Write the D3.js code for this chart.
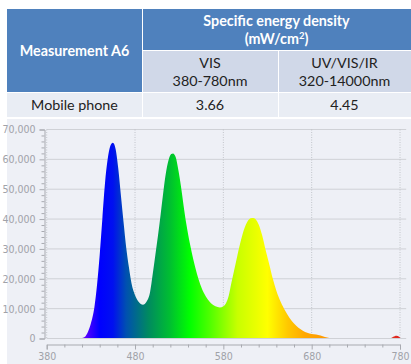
<!DOCTYPE html>
<html>
<head>
<meta charset="utf-8">
<script src="https://cdn.jsdelivr.net/npm/d3@7"></script>
<style>
  body { margin: 0; background: #fff; }
  svg { display: block; }
</style>
</head>
<body>
<svg id="svg_elem"></svg>
<script>
//define constants
const svgWidth = 411;
const svgHeight = 364;

//table data
const headLeft = 'Measurement A6';
const headTop = ['Specific energy density', '(mW/cm²)'];
const subHeads = [['VIS', '380-780nm'], ['UV/VIS/IR', '320-14000nm']];
const rowLabel = 'Mobile phone';
const rowValues = ['3.66', '4.45'];

//spectrum data (wavelength nm, counts)
const wavelengths = [418, 422, 426, 430, 434, 437, 440, 443, 446, 449, 452, 455, 458, 461, 464, 467, 470, 473, 476, 480,
  484, 489, 493, 497, 500, 503, 506, 509, 512, 515, 518, 521, 523, 526, 529, 532, 535, 538, 542, 546,
  550, 554, 558, 562, 566, 571, 576, 580, 583, 586, 589, 592, 596, 600, 604, 608, 611, 614, 617, 620,
  624, 628, 632, 636, 640, 645, 650, 655, 660, 665, 670, 675, 680, 685, 690, 695, 700, 704,
  768, 772, 776, 779, 781];
const counts = [0, 300, 1800, 5000, 10500, 18000, 28000, 40000, 52000, 60000, 64500, 65600, 63500, 57000, 48000, 39000, 30500, 24000, 18500, 14500,
  12300, 11300, 12300, 15500, 21500, 28000, 34500, 41500, 49000, 55500, 59800, 61800, 62000, 60800, 56500, 51000, 44500, 38500, 32000, 26500,
  21800, 18000, 15200, 13200, 11800, 10800, 10400, 10800, 11800, 14200, 18500, 22500, 28000, 33000, 37000, 39500, 40300, 40400, 39800, 38200,
  34500, 29500, 24800, 20000, 16000, 12200, 9300, 6900, 5000, 3600, 2600, 1900, 1500, 1300, 1000, 500, 150, 0,
  0, 500, 900, 600, 0];

//axes
const yTicks = [0, 10000, 20000, 30000, 40000, 50000, 60000, 70000];
const xTicks = [380, 480, 580, 680, 780];

//colour stops along the spectrum
const stopNm = [420, 440, 455, 470, 495, 520, 542, 565, 596, 630, 653, 672, 705, 765, 780];
const stopColor = ['#7000ff', '#0000ff', '#0010f0', '#0050b0', '#008a60', '#00c030', '#00ff00', '#50ff00', '#c8ff00',
  '#ffff00', '#ffc800', '#ffa800', '#ff9400', '#e04020', '#e02020'];

const data = wavelengths.map((w, i) => ({nm: w, v: counts[i]}));

const svg = d3.select('#svg_elem')
  .attr('width', svgWidth)
  .attr('height', svgHeight);

//----- table -----
const tbl = svg.append('g').classed('table', true);
const tx0 = 7, tx1 = 142, tx2 = 278, tx3 = 411;
const ty0 = 9, ty1 = 50, ty2 = 92, ty3 = 117;
const gap = 1;
const cells = [
  {x: tx0, y: ty0, w: tx1 - tx0, h: ty2 - ty0, fill: '#4f81bd'},
  {x: tx1 + gap, y: ty0, w: tx3 - tx1 - gap, h: ty1 - ty0, fill: '#4f81bd'},
  {x: tx1 + gap, y: ty1 + gap, w: tx2 - tx1 - gap, h: ty2 - ty1 - gap, fill: '#d0d8e8'},
  {x: tx2 + gap, y: ty1 + gap, w: tx3 - tx2 - gap, h: ty2 - ty1 - gap, fill: '#d0d8e8'},
  {x: tx0, y: ty2 + gap, w: tx1 - tx0, h: ty3 - ty2 - gap, fill: '#e9edf4'},
  {x: tx1 + gap, y: ty2 + gap, w: tx2 - tx1 - gap, h: ty3 - ty2 - gap, fill: '#e9edf4'},
  {x: tx2 + gap, y: ty2 + gap, w: tx3 - tx2 - gap, h: ty3 - ty2 - gap, fill: '#e9edf4'}
];
tbl.selectAll('rect').data(cells).enter().append('rect')
  .attr('x', d => d.x).attr('y', d => d.y)
  .attr('width', d => d.w).attr('height', d => d.h)
  .attr('fill', d => d.fill);

const tfont = 'Lato, "Open Sans", sans-serif';
const tsize = 14.3;
function addText(txt, x, y, opts) {
  return tbl.append('text')
    .attr('x', x).attr('y', y)
    .attr('text-anchor', 'middle')
    .style('font-family', tfont)
    .style('font-size', tsize + 'px')
    .style('font-weight', opts.bold ? 'bold' : 'normal')
    .attr('fill', opts.color)
    .text(txt);
}
addText(headLeft, (tx0 + tx1) / 2, 56, {bold: true, color: '#fff'});
addText(headTop[0], (tx1 + tx3) / 2, 26, {bold: true, color: '#fff'});
const unit = addText('(mW/cm', (tx1 + tx3) / 2, 44, {bold: true, color: '#fff'});
unit.append('tspan').attr('dy', -5).style('font-size', '9.5px').text('2');
unit.append('tspan').attr('dy', 5).text(')');
subHeads.forEach((s, i) => {
  const cx = i == 0 ? (tx1 + tx2) / 2 : (tx2 + tx3) / 2;
  addText(s[0], cx, 68, {color: '#222'});
  addText(s[1], cx, 86, {color: '#222'});
});
addText(rowLabel, (tx0 + tx1) / 2, 110, {color: '#222'});
rowValues.forEach((v, i) => {
  const cx = i == 0 ? (tx1 + tx2) / 2 : (tx2 + tx3) / 2;
  addText(v, cx, 110, {color: '#222'});
});

//----- chart panel -----
svg.append('rect')
  .attr('x', 7).attr('y', 119)
  .attr('width', svgWidth - 7).attr('height', svgHeight - 119)
  .attr('fill', '#eef0f6');

const xScale = d3.scaleLinear().domain([380, 780]).range([46.7, 400]);
const yScale = d3.scaleLinear().domain([0, 70000]).range([338.5, 129.5]);

const chart = svg.append('g').classed('chart', true);

//horizontal grid
chart.selectAll('.hgrid').data(yTicks.slice(1)).enter().append('line')
  .attr('x1', xScale(380)).attr('x2', xScale(787))
  .attr('y1', d => yScale(d)).attr('y2', d => yScale(d))
  .attr('stroke', '#cfd1d6').attr('stroke-width', 1);

//vertical dotted grid
chart.selectAll('.vgrid').data(xTicks).enter().append('line')
  .attr('x1', d => xScale(d)).attr('x2', d => xScale(d))
  .attr('y1', yScale(70000)).attr('y2', yScale(0))
  .attr('stroke', '#b8bac0').attr('stroke-width', 0.8)
  .attr('stroke-dasharray', '1,1.5');

//gradient
const grad = svg.append('defs').append('linearGradient')
  .attr('id', 'spec')
  .attr('gradientUnits', 'userSpaceOnUse')
  .attr('x1', xScale(380)).attr('x2', xScale(780))
  .attr('y1', 0).attr('y2', 0);
grad.selectAll('stop').data(stopNm).enter().append('stop')
  .attr('offset', d => (d - 380) / 400)
  .attr('stop-color', (d, i) => stopColor[i]);

const area = d3.area()
  .x(d => xScale(d.nm))
  .y0(yScale(0))
  .y1(d => yScale(d.v))
  .curve(d3.curveMonotoneX);

chart.append('path')
  .datum(data)
  .attr('d', area)
  .attr('fill', 'url(#spec)');

//baseline
chart.append('line')
  .attr('x1', xScale(380)).attr('x2', xScale(787))
  .attr('y1', yScale(0)).attr('y2', yScale(0))
  .attr('stroke', '#cfd1d6');

//y axis
const axFont = '"Liberation Sans Narrow", "DejaVu Sans Condensed", sans-serif';
const yAxis = d3.axisLeft(yScale)
  .tickValues(yTicks)
  .tickSize(5)
  .tickFormat(d3.format(','));
const yg = chart.append('g')
  .attr('transform', 'translate(44.5,0)')
  .call(yAxis);
yg.select('.domain').attr('stroke', '#a8aab0');
yg.selectAll('.tick line').attr('stroke', '#a8aab0');
yg.selectAll('.tick text')
  .attr('fill', '#a0a2a8')
  .style('font-family', axFont)
  .style('font-size', '10.5px')
  .attr('x', -9);
//minor y ticks
chart.append('g').selectAll('line')
  .data(d3.range(0, 70001, 2000).filter(d => d % 10000 != 0))
  .enter().append('line')
  .attr('x1', 41.5).attr('x2', 44.5)
  .attr('y1', d => yScale(d) + 0.5).attr('y2', d => yScale(d) + 0.5)
  .attr('stroke', '#a8aab0');

//x axis
const xAxis = d3.axisBottom(xScale)
  .tickValues(xTicks)
  .tickSize(5)
  .tickFormat(d3.format('d'));
const xg = chart.append('g')
  .attr('transform', 'translate(0,344.5)')
  .call(xAxis);
xg.select('.domain').attr('stroke', '#a8aab0');
xg.selectAll('.tick line').attr('stroke', '#a8aab0');
xg.selectAll('.tick text')
  .attr('fill', '#a0a2a8')
  .style('font-family', axFont)
  .style('font-size', '10.5px')
  .attr('y', 8);
//minor x ticks
chart.append('g').selectAll('line')
  .data(d3.range(400, 780, 20).filter(d => d % 100 != 80))
  .enter().append('line')
  .attr('x1', d => xScale(d) + 0.5).attr('x2', d => xScale(d) + 0.5)
  .attr('y1', 344.5).attr('y2', 347.5)
  .attr('stroke', '#a8aab0');
</script>
</body>
</html>
